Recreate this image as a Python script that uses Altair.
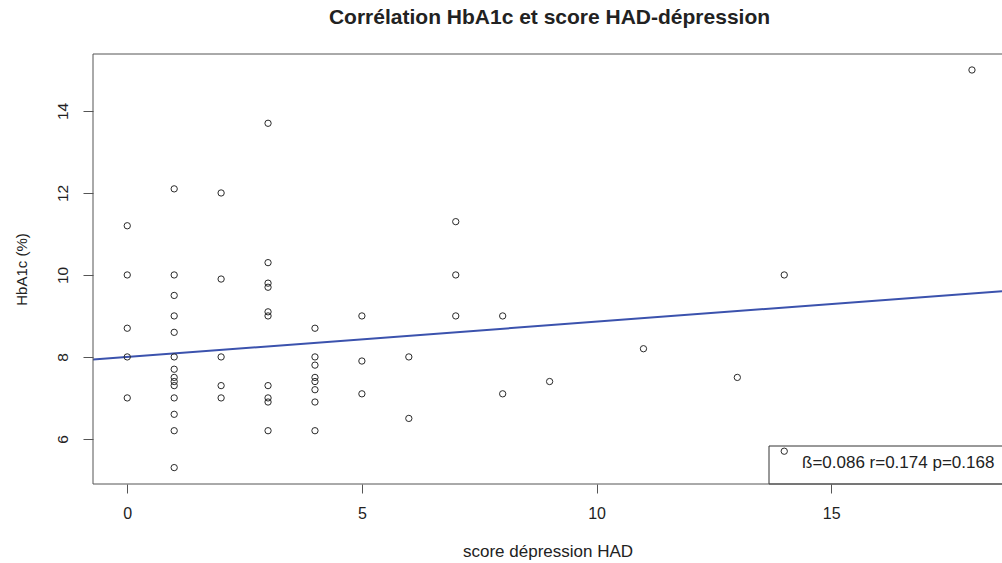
import altair as alt
import pandas as pd

# HAD depression score and HbA1c (%) for each patient
score = [0, 0, 0, 0, 0,
         1, 1, 1, 1, 1, 1, 1, 1, 1, 1, 1, 1, 1, 1,
         2, 2, 2, 2, 2,
         3, 3, 3, 3, 3, 3, 3, 3, 3, 3,
         4, 4, 4, 4, 4, 4, 4, 4,
         5, 5, 5,
         6, 6,
         7, 7, 7,
         8, 8,
         9,
         11,
         13,
         14, 14,
         18]
hba1c = [11.2, 10.0, 8.7, 8.0, 7.0,
         12.1, 10.0, 9.5, 9.0, 8.6, 8.0, 7.7, 7.5, 7.4, 7.3, 7.0, 6.6, 6.2, 5.3,
         12.0, 9.9, 8.0, 7.3, 7.0,
         13.7, 10.3, 9.8, 9.7, 9.1, 9.0, 7.3, 7.0, 6.9, 6.2,
         8.7, 8.0, 7.8, 7.5, 7.4, 7.2, 6.9, 6.2,
         9.0, 7.9, 7.1,
         8.0, 6.5,
         11.3, 10.0, 9.0,
         9.0, 7.1,
         7.4,
         8.2,
         7.5,
         10.0, 5.7,
         15.0]

# Fitted regression and its statistics
beta = 0.086
intercept = 8.0
r_value = 0.174
p_value = 0.168

x_ticks = [0, 5, 10, 15]
y_ticks = [6, 8, 10, 12, 14]
x_domain = [-0.73, 18.64]
y_domain = [4.90, 15.39]

W, H = 909, 430
FONT = "Liberation Sans"
INK = "#222222"
FRAME = "#555555"

points = pd.DataFrame({"score": score, "hba1c": hba1c})
fit = pd.DataFrame({"score": x_domain})
fit["hba1c"] = intercept + beta * fit["score"]
stats = pd.DataFrame({"label": [f"ß={beta:.3f} r={r_value:.3f} p={p_value:.3f}"]})

x_scale = alt.Scale(domain=x_domain, nice=False, zero=False)
y_scale = alt.Scale(domain=y_domain, nice=False, zero=False)

x_axis = alt.Axis(
    values=x_ticks, grid=False, domain=False, tickSize=9, tickColor=FRAME,
    labelFont=FONT, labelFontSize=16, labelColor=INK, labelPadding=25,
    labelBaseline="alphabetic", labelFlush=False,
    title="score dépression HAD", titleFont=FONT, titleFontSize=17,
    titleFontWeight="normal", titleColor=INK, titleBaseline="alphabetic", titleY=72,
)
y_axis = alt.Axis(
    values=y_ticks, grid=False, domain=False, tickSize=10, tickColor=FRAME,
    labelFont=FONT, labelFontSize=15.5, labelColor=INK, labelPadding=16,
    labelAngle=270, labelAlign="center", labelBaseline="alphabetic", labelFlush=False,
    title="HbA1c (%)", titleFont=FONT, titleFontSize=15, titleFontWeight="normal",
    titleColor=INK, titleAngle=270, titleBaseline="alphabetic", titleX=-67,
)

# Frame on the left, top and bottom of the plotting region
top_edge = alt.Chart(stats).mark_rule(color=FRAME, strokeWidth=1).encode(
    x=alt.value(0), x2=alt.value(W + 10), y=alt.value(0))
left_edge = alt.Chart(stats).mark_rule(color=FRAME, strokeWidth=1).encode(
    x=alt.value(0), y=alt.value(0), y2=alt.value(H))
bottom_edge = alt.Chart(stats).mark_rule(color=FRAME, strokeWidth=1).encode(
    x=alt.value(0), x2=alt.value(W + 10), y=alt.value(H))

# Box holding the regression statistics (bottom right)
stat_box = alt.Chart(stats).mark_rect(fill="white", stroke="#333333", strokeWidth=1).encode(
    x=alt.value(676), x2=alt.value(W + 10), y=alt.value(392), y2=alt.value(H))
stat_text = alt.Chart(stats).mark_text(
    font=FONT, fontSize=17, color=INK, align="left", baseline="alphabetic"
).encode(x=alt.value(709), y=alt.value(414), text="label:N")

line = alt.Chart(fit).mark_line(color="#3b52ad", strokeWidth=2, clip=True).encode(
    x=alt.X("score:Q", scale=x_scale, axis=x_axis),
    y=alt.Y("hba1c:Q", scale=y_scale, axis=y_axis),
)

dots = alt.Chart(points).mark_point(
    shape="circle", filled=False, size=40, stroke="#2a2a2a", strokeWidth=1, opacity=1
).encode(
    x=alt.X("score:Q", scale=x_scale, axis=x_axis),
    y=alt.Y("hba1c:Q", scale=y_scale, axis=y_axis),
)

chart = alt.layer(
    stat_box, line, dots, stat_text, top_edge, left_edge, bottom_edge
).properties(
    width=W, height=H,
    title=alt.TitleParams(
        text="Corrélation HbA1c et score HAD-dépression",
        font=FONT, fontSize=21, fontWeight="bold", color=INK,
        anchor="middle", frame="group", baseline="alphabetic", offset=9, dx=2,
    ),
    padding={"left": 93, "top": 54, "right": 0, "bottom": 79},
    autosize=alt.AutoSizeParams(type="none"),
    background="white",
).configure_view(stroke=None)

chart.save("out.html", embed_options={"renderer": "svg", "actions": False})
